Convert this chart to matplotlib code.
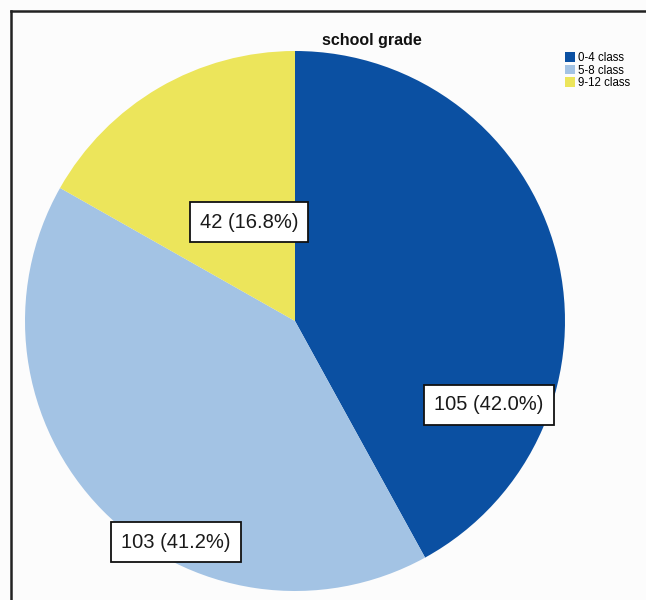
import matplotlib.pyplot as plt
from matplotlib.lines import Line2D

plt.rcParams['font.family'] = ['Liberation Sans', 'DejaVu Sans']

categories = ['0-4 class', '5-8 class', '9-12 class']
counts = [105, 103, 42]
colors = ['#0b50a2', '#a3c3e4', '#ece55b']

W, H = 646, 600
fig = plt.figure(figsize=(W / 100, H / 100), dpi=100, facecolor='#fcfcfc')
ax = fig.add_axes([0, 0, 1, 1])

# pie in pixel coordinates (y measured from the bottom)
cx, cy, r = 295, H - 321, 270
wedges, _ = ax.pie(counts, colors=colors, startangle=90, counterclock=False,
                   center=(cx, cy), radius=r, frame=True,
                   wedgeprops=dict(linewidth=0))
ax.set_xlim(0, W)
ax.set_ylim(0, H)
ax.set_aspect('equal')
ax.axis('off')

total = sum(counts)
label_pos = [(489, 405), (176, 542), (249, 222)]
for n, (px, py) in zip(counts, label_pos):
    ax.text(px, H - py, f'{n} ({100 * n / total:.1f}%)', ha='center', va='center',
            fontsize=14.5, color='#1a1a1a',
            bbox=dict(boxstyle='square,pad=0.5', facecolor='white',
                      edgecolor='#111111', linewidth=1.3))

fig.text(372 / W, 1 - 40 / H, 'school grade', ha='center', va='center',
         fontsize=11.5, fontweight='bold', color='#111111')

leg = ax.legend(wedges, categories, loc='upper left',
                bbox_to_anchor=(565 / W, 1 - 52 / H), bbox_transform=fig.transFigure,
                frameon=False, fontsize=8.3, handlelength=0.85, handleheight=0.9,
                handletextpad=0.25, labelspacing=0.05, borderpad=0, borderaxespad=0)

# outer frame: left and top edges
fig.add_artist(Line2D([11 / W, 11 / W], [0, 1 - 11 / H], color='#222222', linewidth=1.8,
                      transform=fig.transFigure))
fig.add_artist(Line2D([11 / W, 1], [1 - 11 / H, 1 - 11 / H], color='#222222', linewidth=1.8,
                      transform=fig.transFigure))

fig.savefig('out.png', dpi=100, facecolor=fig.get_facecolor())
